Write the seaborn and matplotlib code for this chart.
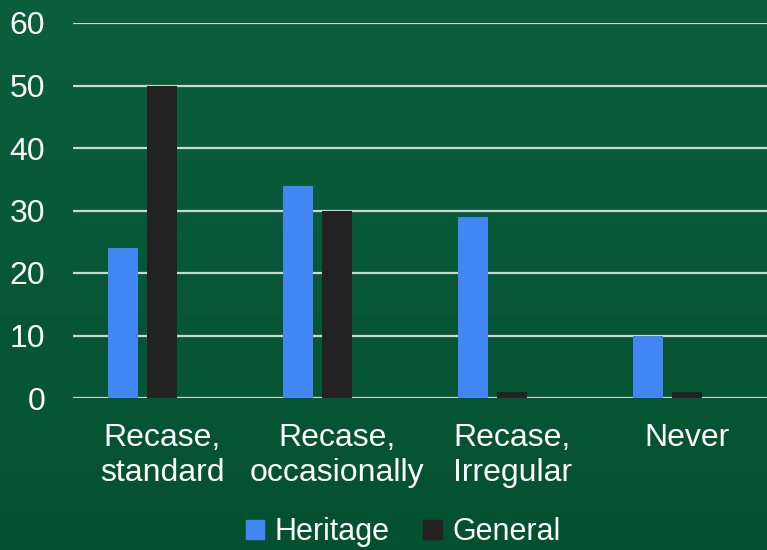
import matplotlib
matplotlib.use('Agg')
import matplotlib.pyplot as plt
import numpy as np
import pandas as pd
import seaborn as sns
from matplotlib.colors import LinearSegmentedColormap
from matplotlib.patches import Patch

categories = ['Recase,\nstandard', 'Recase,\noccasionally', 'Recase,\nIrregular', 'Never']
heritage = [24, 34, 29, 10]
general = [50, 30, 1, 1]
series = ['Heritage', 'General']
y_ticks = [0, 10, 20, 30, 40, 50, 60]

df = pd.DataFrame({
    'category': categories * 2,
    'value': heritage + general,
    'series': [series[0]] * 4 + [series[1]] * 4,
})

sns.set_theme(style='white')
plt.rcParams['font.family'] = ['Liberation Sans', 'DejaVu Sans']

fig = plt.figure(figsize=(7.67, 5.5), dpi=100)

# green gradient background
bg = fig.add_axes([0, 0, 1, 1], zorder=-10)
grad = np.linspace(0, 1, 256).reshape(-1, 1)
cmap = LinearSegmentedColormap.from_list('bg', ['#0b5f3d', '#04512f'])
bg.imshow(grad, aspect='auto', cmap=cmap, extent=[0, 1, 0, 1])
bg.axis('off')

ax = fig.add_axes([73 / 767, 1 - 398 / 550, 700 / 767, 375 / 550])
ax.patch.set_alpha(0)

sns.barplot(data=df, x='category', y='value', hue='series',
            hue_order=['Heritage', 'General', '_empty'],
            palette={'Heritage': '#4286f4', 'General': '#222222', '_empty': '#000000'},
            width=0.669, gap=0.23, saturation=1, linewidth=0,
            ax=ax, legend=False, zorder=3)

ax.set_ylim(0, 60)
ax.set_xlim(-0.51, 3.49)
ax.set_yticks(y_ticks)
ax.yaxis.grid(True, color='#d0d6d2', linewidth=1.6, zorder=0)
ax.set_axisbelow(True)
for s in ax.spines.values():
    s.set_visible(False)
ax.set_xlabel('')
ax.set_ylabel('')
ax.tick_params(axis='both', length=0, labelsize=23, colors='white')
ax.tick_params(axis='y', pad=20)
ax.tick_params(axis='x', pad=18)

handles = [Patch(color='#4286f4'), Patch(color='#222222')]
fig.legend(handles, series, loc='center', bbox_to_anchor=(403 / 767, 1 - 532 / 550),
           ncol=2, frameon=False, fontsize=22, labelcolor='white',
           handlelength=0.6, handleheight=0.6, handletextpad=0.35,
           columnspacing=1.1, borderpad=0)

fig.savefig('out.png', dpi=100)
